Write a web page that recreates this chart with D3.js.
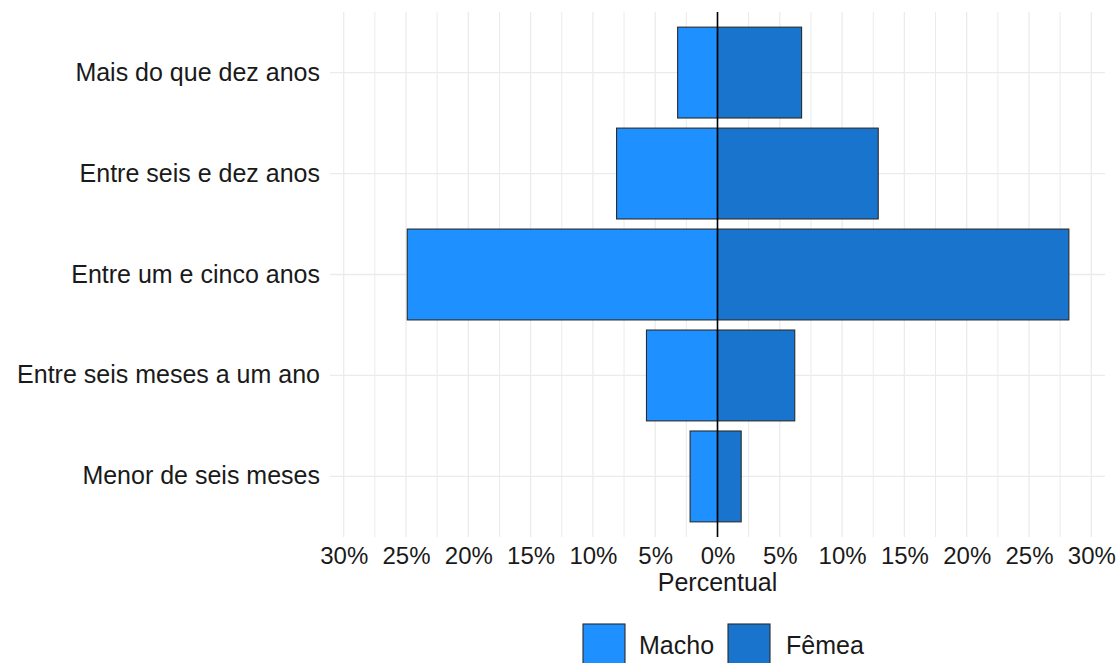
<!DOCTYPE html>
<html>
<head>
<meta charset="utf-8">
<script src="https://cdn.jsdelivr.net/npm/d3@7"></script>
<style>
  body { margin: 0; background: #fff; }
  svg { font-family: "Liberation Sans", Arial, sans-serif; }
</style>
</head>
<body>
<div id="chart"></div>
<script>
const width = 1117;
const height = 663;

// categories from top to bottom
const faixas = ['Mais do que dez anos', 'Entre seis e dez anos', 'Entre um e cinco anos', 'Entre seis meses a um ano', 'Menor de seis meses'];
const macho = [3.2, 8.1, 24.9, 5.7, 2.2];
const femea = [6.75, 12.9, 28.2, 6.2, 1.9];
const ticks = [-30, -25, -20, -15, -10, -5, 0, 5, 10, 15, 20, 25, 30];
const sexos = ['Macho', 'Fêmea'];

const color = d3.scaleOrdinal().domain(sexos).range(['#1e90ff', '#1874cd']);

const panel = { left: 330, right: 1105, top: 12, bottom: 537 };

const x = d3.scaleLinear().domain([-31.1, 31.1]).range([panel.left, panel.right]);
const y = d3.scaleBand().domain(faixas)
    .range([panel.top, panel.bottom])
    .paddingInner(0.1).paddingOuter(0.15);

const barras = [];
faixas.forEach((f, i) => {
    barras.push({ faixa: f, sexo: 'Macho', v: -macho[i] });
    barras.push({ faixa: f, sexo: 'Fêmea', v: femea[i] });
});

const svg = d3.select('#chart').append('svg').attr('width', width).attr('height', height);

// grid: minor lines every 2.5%, major every 5%
const minor = d3.range(-30, 30.1, 2.5);
svg.append('g')
    .selectAll('line')
    .data(minor)
    .join('line')
    .attr('x1', d => x(d)).attr('x2', d => x(d))
    .attr('y1', panel.top).attr('y2', panel.bottom)
    .attr('stroke', '#ebebeb')
    .attr('stroke-width', d => d % 5 === 0 ? 1.3 : 1);

svg.append('g')
    .selectAll('line')
    .data(faixas)
    .join('line')
    .attr('x1', panel.left).attr('x2', panel.right)
    .attr('y1', d => y(d) + y.bandwidth() / 2).attr('y2', d => y(d) + y.bandwidth() / 2)
    .attr('stroke', '#ebebeb')
    .attr('stroke-width', 1.3);

// bars
svg.append('g')
    .selectAll('rect')
    .data(barras)
    .join('rect')
    .attr('x', d => x(Math.min(0, d.v)))
    .attr('width', d => Math.abs(x(d.v) - x(0)))
    .attr('y', d => y(d.faixa))
    .attr('height', y.bandwidth())
    .attr('fill', d => color(d.sexo))
    .attr('stroke', '#2b2b2b')
    .attr('stroke-width', 1.1);

// zero line
svg.append('line')
    .attr('x1', x(0)).attr('x2', x(0))
    .attr('y1', panel.top).attr('y2', panel.bottom)
    .attr('stroke', '#000')
    .attr('stroke-width', 1.6);

// x axis labels
const xAxis = d3.axisBottom(x)
    .tickValues(ticks)
    .tickFormat(d => Math.abs(d) + '%')
    .tickSize(0)
    .tickPadding(0);

const gx = svg.append('g')
    .attr('transform', `translate(0,${panel.bottom})`)
    .call(xAxis);
gx.select('.domain').remove();
gx.selectAll('text')
    .attr('y', 10)
    .attr('dy', '0.71em')
    .attr('font-size', 24)
    .attr('font-family', '"Liberation Sans", Arial, sans-serif')
    .attr('fill', '#1a1a1a');

// y axis labels
const yAxis = d3.axisLeft(y).tickSize(0).tickPadding(10);
const gy = svg.append('g')
    .attr('transform', `translate(${panel.left},0)`)
    .call(yAxis);
gy.select('.domain').remove();
gy.selectAll('text')
    .attr('font-size', 25)
    .attr('font-family', '"Liberation Sans", Arial, sans-serif')
    .attr('fill', '#1a1a1a');

// axis title
svg.append('text')
    .attr('x', x(0))
    .attr('y', 591)
    .attr('text-anchor', 'middle')
    .attr('font-size', 25)
    .attr('fill', '#1a1a1a')
    .text('Percentual');

// legend
const legendItems = [
    { sexo: 'Macho', kx: 583, tx: 639 },
    { sexo: 'Fêmea', kx: 728, tx: 786 }
];
const legend = svg.append('g');
legend.selectAll('rect')
    .data(legendItems)
    .join('rect')
    .attr('x', d => d.kx)
    .attr('y', 624)
    .attr('width', 42)
    .attr('height', 42)
    .attr('fill', d => color(d.sexo))
    .attr('stroke', '#2b2b2b')
    .attr('stroke-width', 1.1);
legend.selectAll('text')
    .data(legendItems)
    .join('text')
    .attr('x', d => d.tx)
    .attr('y', 654)
    .attr('font-size', 25)
    .attr('fill', '#1a1a1a')
    .text(d => d.sexo);
</script>
</body>
</html>
